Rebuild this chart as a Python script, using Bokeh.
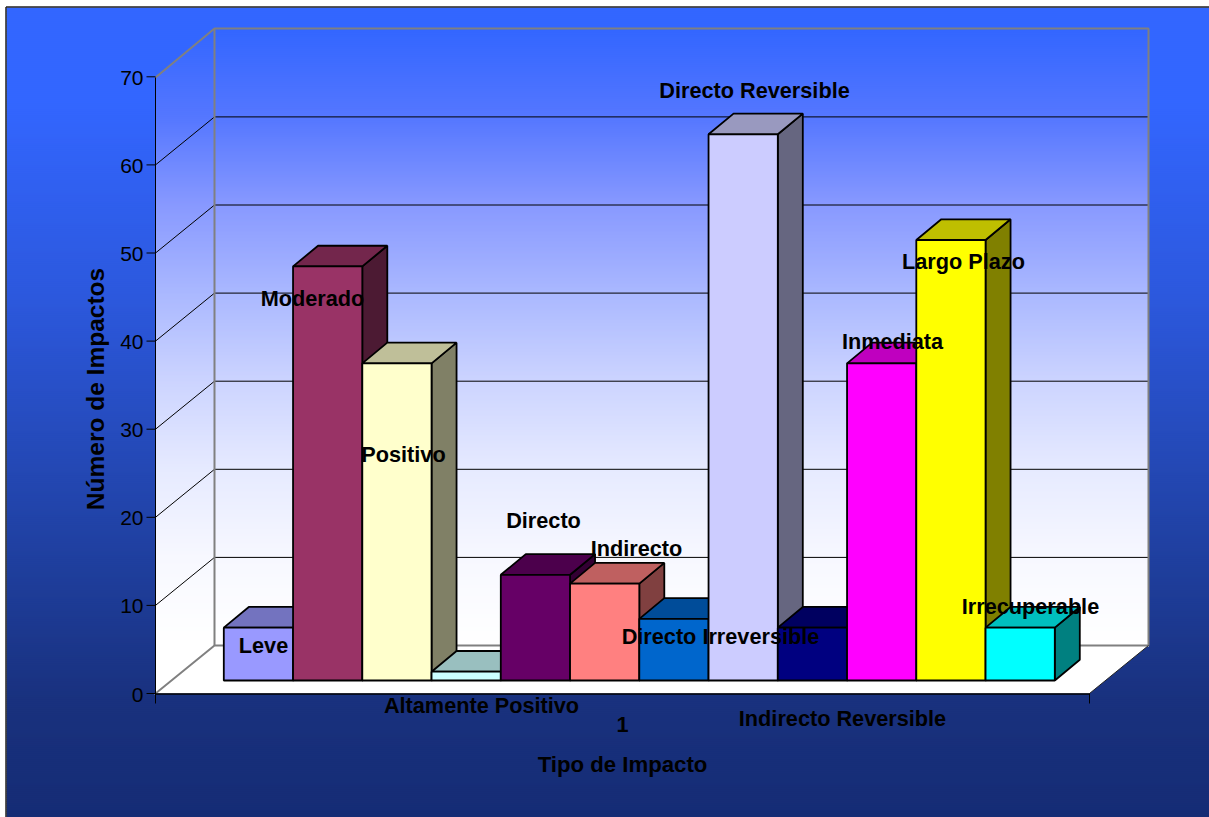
from bokeh.core.properties import value
from bokeh.embed import file_html
from bokeh.models import Range1d
from bokeh.plotting import figure
from bokeh.resources import INLINE

# Impact counts per type
categories = ["Leve", "Moderado", "Positivo", "Altamente Positivo", "Directo", "Indirecto",
              "Directo Irreversible", "Directo Reversible", "Indirecto Reversible",
              "Inmediata", "Largo Plazo", "Irrecuperable"]
counts = [6, 47, 36, 1, 12, 11, 7, 62, 6, 36, 50, 6]
bar_colors = ["#9999FF", "#993366", "#FFFFCC", "#CCFFFF", "#660066", "#FF8080",
              "#0066CC", "#CCCCFF", "#000080", "#FF00FF", "#FFFF00", "#00FFFF"]
y_ticks = [0, 10, 20, 30, 40, 50, 60, 70]
x_tick_label = "1"
x_title = "Tipo de Impacto"
y_title = "Número de Impactos"

# Label anchors (pixel centres), in the same order as the categories
label_x = [263, 312, 403, 481, 543, 636, 720, 754, 842, 892, 963, 1030]
label_y = [645, 298, 454, 705, 520, 548, 636, 90, 718, 341, 261, 606]

# Layout of the pseudo-3D box, in pixels
W, H = 1209, 817
BASE_PX = 680
UNIT = 8.81
BAR_LEFT, BAR_W = 223.3, 69.25
DX, DY = 25, 20.7
WALL_L, WALL_R, WALL_T, WALL_B = 214, 1148, 28, 645
FRONT_L, FRONT_R, FRONT_B, FRONT_T = 155, 1089, 693, 77


def py(px):
    """Pixel row to value units on the bars' front plane."""
    return (BASE_PX - px) / UNIT


def mix(stops, t):
    for (t0, c0), (t1, c1) in zip(stops, stops[1:]):
        if t <= t1:
            f = (t - t0) / (t1 - t0)
            return "#%02x%02x%02x" % tuple(round(a + (b - a) * f) for a, b in zip(c0, c1))
    return "#%02x%02x%02x" % stops[-1][1]


def shade(hex_color, k):
    rgb = [int(hex_color[i:i + 2], 16) for i in (1, 3, 5)]
    return "#%02x%02x%02x" % tuple(round(c * k) for c in rgb)


BG_STOPS = [(0, (0x33, 0x66, 0xFF)), (100, (0x33, 0x66, 0xFF)), (300, (0x2C, 0x58, 0xDC)),
            (560, (0x1F, 0x3F, 0x9E)), (700, (0x19, 0x31, 0x7E)), (817, (0x15, 0x2C, 0x75))]
WALL_STOPS = [(28, (0x33, 0x66, 0xFF)), (116, (0x55, 0x77, 0xFF)), (204, (0x88, 0x99, 0xFF)),
              (292, (0xAA, 0xB8, 0xFF)), (380, (0xCC, 0xD4, 0xFF)), (468, (0xE6, 0xEA, 0xFF)),
              (556, (0xF7, 0xF8, 0xFF)), (645, (0xFF, 0xFF, 0xFF))]

p = figure(width=W, height=H, output_backend="svg", toolbar_location=None,
           x_range=Range1d(0, W), y_range=Range1d(py(H), py(0)),
           x_axis_type=None, y_axis_type=None, min_border=0,
           background_fill_color="white", outline_line_color=None)
p.grid.visible = False

# Page background, built from thin horizontal bands
STEP = 2
rows = list(range(7, H, STEP))
p.quad(left=6, right=W, top=[py(r) for r in rows], bottom=[py(r + STEP + 0.5) for r in rows],
       fill_color=[mix(BG_STOPS, r) for r in rows], line_color=None)
p.line([5.5, 5.5], [py(H), py(6.5)], line_color="#222222", line_width=1.5)
p.line([5.5, W], [py(6.5), py(6.5)], line_color="#222222", line_width=1.5)


def side_left(y):
    return FRONT_L if y >= FRONT_T else FRONT_L + (FRONT_T - y) * (WALL_L - FRONT_L) / (FRONT_T - WALL_T)


def side_right(y):
    return WALL_L if y <= WALL_B else WALL_L - (y - WALL_B) * (WALL_L - FRONT_L) / (FRONT_B - WALL_B)


# Back and side walls share one vertical gradient
rows = list(range(WALL_T, WALL_B, STEP))
p.quad(left=WALL_L, right=WALL_R, top=[py(r) for r in rows], bottom=[py(r + STEP + 0.5) for r in rows],
       fill_color=[mix(WALL_STOPS, r) for r in rows], line_color=None)
rows = list(range(WALL_T, FRONT_B, STEP))
p.patches(xs=[[side_left(r), side_right(r), side_right(r + STEP), side_left(r + STEP)] for r in rows],
          ys=[[py(r), py(r), py(r + STEP + 0.5), py(r + STEP + 0.5)] for r in rows],
          fill_color=[mix(WALL_STOPS, r) for r in rows], line_color=None)

# Floor
p.patch([FRONT_L, WALL_L, WALL_R, FRONT_R], [py(FRONT_B), py(WALL_B), py(WALL_B), py(FRONT_B)],
        fill_color="white", line_color=None)

# Gridlines wrap from the side wall onto the back wall
front_drop = (FRONT_B - BASE_PX) / UNIT
back_rise = (BASE_PX - WALL_B) / UNIT
for t in y_ticks[1:-1]:
    p.line([FRONT_L, WALL_L, WALL_R], [t - front_drop, t + back_rise, t + back_rise],
           line_color="black", line_width=1)

# Wall and floor frame
FRAME = "#808080"
p.line([FRONT_L, WALL_L, WALL_R, WALL_R], [py(FRONT_T), py(WALL_T), py(WALL_T), py(WALL_B)],
       line_color=FRAME, line_width=2)
p.line([WALL_L, WALL_L], [py(WALL_T), py(WALL_B)], line_color=FRAME, line_width=2)
p.line([FRONT_L, WALL_L, WALL_R], [py(FRONT_B), py(WALL_B), py(WALL_B)], line_color=FRAME, line_width=2)
p.line([WALL_R, FRONT_R], [py(WALL_B), py(FRONT_B)], line_color="#222222", line_width=1)

# Bars, painted left to right so each one hides its neighbour's side face
EDGE = 1.8
for i, (v, c) in enumerate(zip(counts, bar_colors)):
    x0 = BAR_LEFT + i * BAR_W
    x1 = x0 + BAR_W
    dy = DY / UNIT
    p.patch([x1, x1 + DX, x1 + DX, x1], [0, dy, v + dy, v],
            fill_color=shade(c, 0.5), line_color="black", line_width=EDGE)
    p.patch([x0, x1, x1 + DX, x0 + DX], [v, v, v + dy, v + dy],
            fill_color=shade(c, 0.75), line_color="black", line_width=EDGE)
    p.quad(left=[x0], right=[x1], bottom=[0], top=[v],
           fill_color=c, line_color="black", line_width=EDGE)

# Axes
p.line([FRONT_L, FRONT_L], [py(FRONT_T), py(FRONT_B + 10)], line_color="black", line_width=1)
p.line([FRONT_L, FRONT_R], [py(FRONT_B + 0.5), py(FRONT_B + 0.5)], line_color="black", line_width=1.5)
p.line([FRONT_R, FRONT_R], [py(FRONT_B), py(FRONT_B + 10)], line_color="black", line_width=1)
p.segment(x0=FRONT_L - 9, x1=FRONT_L, y0=[t - front_drop for t in y_ticks],
          y1=[t - front_drop for t in y_ticks], line_color="black", line_width=1)

FONT = value("Liberation Sans")
p.text(x=FRONT_L - 12, y=[t - front_drop - 1 / UNIT for t in y_ticks], text=[str(t) for t in y_ticks],
       text_font=FONT, text_font_size="21px", text_align="right", text_baseline="middle",
       text_color="black")

bold = dict(text_font=FONT, text_font_style="bold", text_font_size="21.7px",
            text_align="center", text_baseline="middle", text_color="black")
p.text(x=label_x, y=[py(r) for r in label_y], text=categories, **bold)
p.text(x=[622], y=[py(724)], text=[x_tick_label], **bold)
p.text(x=[622], y=[py(764)], text=[x_title], **{**bold, "text_font_size": "22.2px"})
p.text(x=[95], y=[py(388.5)], text=[y_title],
       angle=1.5708, **{**bold, "text_font_size": "24.5px"})

open("out.html", "w").write(file_html(p, INLINE))
